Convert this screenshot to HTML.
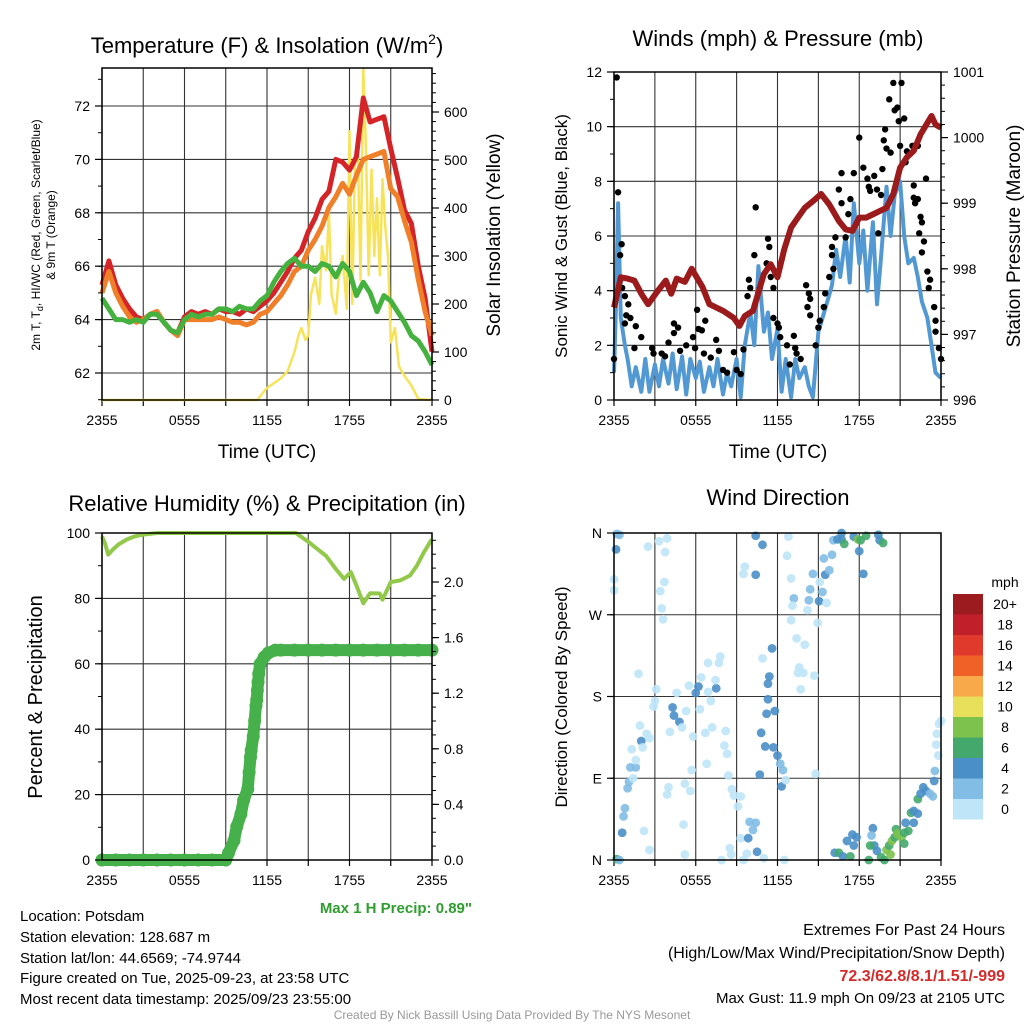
<!DOCTYPE html>
<html><head><meta charset="utf-8">
<style>
html,body{margin:0;padding:0;background:#fff;}
svg{display:block;font-family:"Liberation Sans",sans-serif;}
</style></head>
<body>
<svg id="c" width="1024" height="1024" viewBox="0 0 1024 1024" xmlns="http://www.w3.org/2000/svg">
<rect x="0" y="0" width="1024" height="1024" fill="#fff"/>
<text x="267" y="53" font-size="22" text-anchor="middle">Temperature (F) &amp; Insolation (W/m<tspan font-size="14" dy="-9">2</tspan><tspan dy="9">)</tspan></text>
<text x="778" y="46" font-size="22" text-anchor="middle">Winds (mph) &amp; Pressure (mb)</text>
<text x="267" y="511" font-size="22" text-anchor="middle">Relative Humidity (%) &amp; Precipitation (in)</text>
<text x="778" y="505" font-size="22" text-anchor="middle">Wind Direction</text>
<text transform="translate(40,235) rotate(-90)" font-size="12" text-anchor="middle">2m T, T<tspan font-size="9" dy="3">d</tspan><tspan dy="-3">, HI/WC (Red, Green, Scarlet/Blue)</tspan></text>
<text transform="translate(55,235) rotate(-90)" font-size="12" text-anchor="middle">&amp; 9m T (Orange)</text>
<text transform="translate(500,235) rotate(-90)" font-size="19" text-anchor="middle">Solar Insolation (Yellow)</text>
<text x="267" y="458" font-size="19" text-anchor="middle">Time (UTC)</text>
<text transform="translate(567,236) rotate(-90)" font-size="17" text-anchor="middle">Sonic Wind &amp; Gust (Blue, Black)</text>
<text transform="translate(1020,236) rotate(-90)" font-size="19" text-anchor="middle">Station Pressure (Maroon)</text>
<text x="778" y="458" font-size="19" text-anchor="middle">Time (UTC)</text>
<text transform="translate(42,697) rotate(-90)" font-size="20" text-anchor="middle">Percent &amp; Precipitation</text>
<text transform="translate(567,697) rotate(-90)" font-size="17" text-anchor="middle">Direction (Colored By Speed)</text>
<text x="472" y="913" font-size="15" font-weight="bold" fill="#2e9e2e" text-anchor="end">Max 1 H Precip: 0.89"</text>
<g font-size="15">
<text x="20" y="921">Location: Potsdam</text>
<text x="20" y="942">Station elevation: 128.687 m</text>
<text x="20" y="963">Station lat/lon: 44.6569; -74.9744</text>
<text x="20" y="983">Figure created on Tue, 2025-09-23, at 23:58 UTC</text>
<text x="20" y="1004">Most recent data timestamp: 2025/09/23 23:55:00</text>
</g>
<g font-size="16" text-anchor="end">
<text x="1005" y="935">Extremes For Past 24 Hours</text>
<text x="1005" y="958">(High/Low/Max Wind/Precipitation/Snow Depth)</text>
<text x="1005" y="981" fill="#d42a2a" font-weight="bold">72.3/62.8/8.1/1.51/-999</text>
<text x="1005" y="1003" font-size="15">Max Gust: 11.9 mph On 09/23 at 2105 UTC</text>
</g>
<text x="512" y="1019" font-size="12" fill="#999" text-anchor="middle">Created By Nick Bassill Using Data Provided By The NYS Mesonet</text>
<g id="plots"></g>
</svg>
<script>
const xTickLabels = ["2355","0555","1155","1755","2355"];
const halfHours = [0,0.5,1,1.5,2,2.5,3,3.5,4,4.5,5,5.5,6,6.5,7,7.5,8,8.5,9,9.5,10,10.5,11,11.5,12,12.5,13,13.5,14,14.5,15,15.5,16,16.5,17,17.5,18,18.5,19,19.5,20,20.5,21,21.5,22,22.5,23,23.5,24];
const tempRed = [65.3,66.2,65.3,64.8,64.4,64.1,64.0,64.2,64.3,63.9,63.6,63.5,64.1,64.3,64.2,64.3,64.2,64.4,64.3,64.3,64.2,64.4,64.3,64.5,64.7,65.0,65.4,65.8,66.3,66.6,67.3,67.8,68.5,68.8,70.0,69.9,69.6,70.1,72.3,71.4,71.5,71.6,70.4,69.3,68.1,67.6,66.0,64.8,62.8];
const tempOrange = [65.0,65.8,65.0,64.5,64.1,63.9,64.0,64.2,64.3,63.9,63.6,63.4,64.0,64.0,64.0,64.0,64.0,64.1,64.0,63.9,63.9,63.8,63.9,64.2,64.3,64.6,64.9,65.3,65.8,66.0,66.6,67.0,67.5,68.2,68.6,69.1,68.7,69.4,70.0,70.1,70.2,70.3,68.9,68.6,67.7,66.9,65.5,64.3,63.4];
const tempGreen = [64.8,64.4,64.0,64.0,63.9,64.0,63.9,64.2,64.2,63.9,63.6,63.5,64.0,64.2,64.1,64.2,64.2,64.4,64.4,64.3,64.5,64.4,64.4,64.7,64.9,65.4,65.8,66.1,66.3,66.0,66.0,65.8,66.1,66.0,65.6,66.1,65.8,64.9,65.4,65.0,64.3,64.9,64.7,64.3,63.9,63.4,63.2,62.8,62.3];
const solarHours = [0,11.3,11.7,12,12.5,13,13.5,14,14.3,14.5,14.8,15,15.2,15.5,15.8,16,16.3,16.5,16.7,17,17.2,17.5,17.8,18,18.2,18.4,18.6,18.8,19,19.2,19.4,19.6,19.8,20,20.2,20.4,20.6,20.8,21,21.3,21.6,22,22.5,23,24];
const solarValues = [0,0,15,25,35,45,60,100,135,150,125,135,220,255,200,320,270,390,220,180,250,300,190,560,200,500,520,250,690,520,260,480,300,420,260,460,360,300,120,150,70,50,30,2,0];
const presHours = [0,0.5,1,1.5,2,2.5,3.2,3.8,4.2,4.6,5.2,5.7,6.5,7,8,8.8,9.2,9.6,10.2,11,11.5,12,12.5,13,13.5,14,14.6,15.2,15.8,16.5,17,17.5,18,18.5,19,19.5,20,20.5,21,21.5,22,22.5,23.3,23.6,24];
const presValues = [997.41,997.87,997.85,997.82,997.62,997.46,997.66,997.82,997.62,997.85,997.8,998.0,997.72,997.46,997.36,997.25,997.13,997.28,997.36,997.92,998.07,997.87,998.3,998.63,998.78,998.93,999.03,999.14,998.98,998.73,998.6,998.58,998.78,998.78,998.83,998.88,998.93,999.14,999.54,999.7,999.8,1000.05,1000.33,1000.2,1000.15];
const windHours = [0,0.15,0.3,0.5,0.8,1,1.3,1.6,2,2.3,2.6,3,3.3,3.6,4,4.3,4.6,5,5.3,5.6,6,6.3,6.6,7,7.3,7.6,8,8.3,8.6,9,9.3,9.6,10,10.3,10.6,11,11.3,11.6,12,12.3,12.6,13,13.3,13.6,14,14.3,14.6,15,15.3,15.6,16,16.3,16.6,17,17.3,17.6,18,18.3,18.6,19,19.3,19.6,20,20.3,20.6,21,21.3,21.6,22,22.3,22.6,23,23.3,23.6,24];
const windSpeeds = [1.0,3.5,7.2,3.0,2.0,1.5,0.5,1.2,0.3,1.5,0.3,1.3,0.5,1.5,0.6,1.7,0.4,1.6,0.2,1.5,0.8,1.4,0.3,1.2,0.5,1.5,0.2,1.0,0.5,1.5,0.1,2.0,3.2,2.0,4.9,2.5,3.2,1.5,2.6,0.3,1.5,0.1,1.5,0.8,1.2,0.5,0.1,2.5,3.0,3.5,4.2,5.5,4.5,6.0,4.3,7.2,5.0,6.2,4.0,6.5,3.5,5.2,7.8,6.0,7.5,8.0,6.0,5.0,5.2,4.5,3.6,3.0,2.0,1.0,0.8];
const gustHours = [0,0.2,0.3,0.45,0.56,0.6,0.8,0.8,0.9,1.05,1.2,1.5,1.6,2.0,2.8,2.9,3.5,3.75,4.0,4.4,4.4,4.7,4.85,5.3,5.8,5.95,6.1,6.2,6.45,6.6,6.7,7.1,7.5,7.7,8.0,8.3,8.8,9.0,9.3,9.5,9.8,9.9,10.0,10.3,10.4,10.7,11.2,11.3,11.4,11.5,11.7,11.7,12.0,12.1,12.2,12.7,12.9,13.2,13.3,13.4,13.7,14.1,14.2,14.3,14.4,14.4,14.8,15.0,15.1,15.4,15.5,15.8,16.0,16.0,16.1,16.25,16.5,16.7,16.7,17.0,17.2,17.35,17.5,17.6,18.0,18.3,18.6,18.7,18.8,19.1,19.3,19.4,19.6,19.7,19.8,19.9,20.0,20.2,20.3,20.5,20.6,20.8,20.9,21.0,21.1,21.3,21.4,21.5,21.9,22.0,22.0,22.1,22.3,22.3,22.4,22.5,22.6,22.6,22.75,22.9,23.0,23.1,23.2,23.5,23.6,23.6,23.85,24.0];
const gustSpeeds = [1.5,11.8,7.6,5.3,5.7,4.1,3.8,2.8,3.1,3.5,3.0,1.9,2.7,2.3,1.9,1.7,1.7,1.6,2.1,2.8,2.45,2.65,1.8,2.0,2.3,1.9,3.3,2.6,2.55,1.7,2.9,1.55,2.2,1.8,1.1,1.0,1.75,1.1,0.95,1.85,3.8,4.4,4.1,5.3,7.05,4.1,5.0,5.9,5.6,4.5,4.1,3.0,2.8,2.65,2.3,2.0,1.3,2.35,1.9,1.7,1.5,4.2,3.4,3.9,3.7,3.1,2.0,2.65,2.9,3.4,3.9,4.5,5.3,5.6,4.8,5.95,7.7,8.3,7.2,5.95,6.8,7.35,6.2,8.3,9.6,8.5,8.1,7.8,7.65,8.2,7.7,6.1,7.5,8.45,9.5,9.9,9.2,11.0,9.05,11.6,10.6,10.7,10.2,9.3,11.6,10.3,8.7,9.1,9.3,7.85,7.4,7.2,9.3,7.35,6.1,6.7,6.5,5.4,5.8,8.1,4.7,4.1,4.4,3.4,2.9,2.5,1.9,1.5];
const rhHours = [0,0.2,0.45,0.8,1.2,1.8,2.4,3,4,6,8,10,12,14.1,15.1,15.7,16.3,17,17.6,18.1,18.5,19,19.5,20.2,20.4,21,21.7,22.4,22.9,23.4,23.9,24];
const rhValues = [99,97,93.4,95,96.5,98,99,99.5,100,100,100,100,100,100,97,95,93,89,86,88,84,78.5,81.6,81.5,79.6,85,85.5,87,90,94,97.5,98];
const precipHours = [0,1,2,3,4,5,6,7,8,9,9.2,9.6,9.8,10.1,10.3,10.6,10.7,10.8,10.85,11.0,11.1,11.2,11.25,11.3,11.35,11.4,11.5,11.8,12.1,12.6,13,14,15,16,17,18,19,20,21,22,23,24];
const precipValues = [0,0,0,0,0,0,0,0,0,0,0.05,0.14,0.24,0.33,0.43,0.51,0.63,0.74,0.79,0.89,1.0,1.11,1.15,1.22,1.28,1.34,1.41,1.46,1.49,1.51,1.51,1.51,1.51,1.51,1.51,1.51,1.51,1.51,1.51,1.51,1.51,1.51];
const dirHours = [0.2,0.4,0.15,0,0,0.2,0.4,0.6,0.7,0.8,1.0,1.1,1.4,1.2,1.6,1.6,1.3,2.0,2.1,1.9,2.4,2.6,2.9,3.0,3.1,1.8,2.5,3.3,3.9,3.75,3.7,3.4,3.5,3.6,2.2,2.6,4.0,3.9,4.1,4.3,4.4,4.6,4.8,5.0,5.3,5.5,5.8,6.2,6.4,6.0,6.3,6.9,7.1,7.5,7.45,6.9,7.7,7.8,6.7,7.2,8.2,8.1,8.3,6.8,5.7,5.2,5.6,5.1,5.2,7.9,8.4,8.65,8.8,9.3,9.1,9.3,8.5,8.6,9.5,9.75,9.95,10.2,10.4,9.85,10.5,11.0,10.7,11.1,11.7,10.8,11.2,11.8,11.3,11.3,11.4,11.6,10.9,12.0,12.2,12.4,12.3,12.6,12.5,14.8,9.6,9.5,10.4,10.4,10.9,12.8,12.7,13.0,13.2,13.1,13.0,13.4,14.0,13.6,13.9,13.5,13.7,14.7,14.95,14.2,14.3,14.4,14.6,15.1,15.3,15.05,15.6,15.5,15.8,15.4,16.0,16.1,16.4,16.7,16.7,16.9,17.6,18.0,18.3,17.9,18.1,18.5,19.4,19.5,19.75,16.2,16.5,16.8,17.35,17.1,17.5,17.6,17.8,18.7,19.0,18.9,19.1,18.8,19.3,19.6,19.85,20.0,20.2,20.3,20.4,20.6,20.7,20.8,21.1,21.3,21.3,21.6,21.4,21.8,22.0,22.3,22.0,22.3,22.5,22.7,22.9,23.2,23.4,23.5,23.55,23.8,23.65,23.7,23.85,24.0];
const dirDegrees = [359,358,342,309,297,1,0,30,48,57,79,86,90,102,102,110,122,131,124,148,139,134,169,175,188,205,345,351,354,339,306,296,277,265,32,11,80,72,141,168,159,184,152,146,164,192,136,191,201,184,166,185,175,189,198,217,217,224,140,146,142,126,117,106,99,84,76,39,6,0,93,78,71,70,59,24,13,6,0,7,42,33,41,24,9,2,94,125,124,140,161,164,177,194,202,233,222,115,106,99,81,88,0,95,323,315,314,357,347,356,335,310,288,280,264,244,237,212,206,206,188,203,261,275,286,298,315,306,295,285,283,314,319,332,336,352,353,360,353,348,356,340,315,353,352,357,358,352,349,8,8,4,4,21,28,16,25,0,35,27,16,16,10,3,0,11,16,6,21,25,34,29,25,18,30,32,41,52,41,51,54,67,73,80,76,73,70,87,98,115,127,139,150,153];
const dirSpeeds = [3,3,5,1,1,7,3,5,3,3,3,3,1,3,3,1,1,5,1,1,1,1,1,1,1,1,1,1,1,1,1,1,1,1,1,1,1,1,1,5,5,1,5,1,1,1,1,5,1,5,1,1,1,5,1,1,1,1,1,1,1,1,1,1,1,1,1,1,1,1,1,1,1,1,1,1,1,1,1,1,3,3,3,5,5,1,5,5,5,5,5,5,5,5,5,5,1,5,3,3,5,1,1,1,1,1,5,5,5,1,1,1,3,1,1,1,1,1,1,1,1,1,1,1,3,3,3,1,3,5,1,5,3,3,3,3,5,5,5,7,5,5,5,9,7,7,5,5,7,5,7,5,7,5,5,5,5,7,5,3,5,7,5,7,7,9,7,9,9,7,7,9,9,7,7,7,5,7,5,5,5,7,5,5,5,3,3,5,3,1,1,1,1,1];
const barLabels = ["20+","18","16","14","12","10","8","6","4","2","0"];
const barColors = ["#9b1b1e","#c1202a","#e03a2c","#f06128","#f8a94a","#e8e05a","#7dc24c","#44a86d","#4a8fc8","#82bde6","#bfe6f8"];

const NS = "http://www.w3.org/2000/svg";
const root = document.getElementById("plots");
function mk(tag, attrs, parent) {
  const e = document.createElementNS(NS, tag);
  for (const k in attrs) e.setAttribute(k, attrs[k]);
  (parent || root).appendChild(e);
  return e;
}
function linScale(d0, d1, r0, r1) { return v => r0 + (v - d0) * (r1 - r0) / (d1 - d0); }
function speedColor(s) {
  const idx = Math.min(10, Math.max(0, 10 - Math.floor(s / 2)));
  return barColors[idx];
}
function panelFrame(name, X0, X1, Y0, Y1, xs, gridYs) {
  const g = mk("g", {});
  
  
  for (let h = 0; h <= 24; h += 3) {
    const l = mk("line", {x1: xs(h), x2: xs(h), y1: Y0, y2: Y1, stroke: "#333", "stroke-width": 1.1}, g);
    
    
    const t = mk("line", {x1: xs(h), x2: xs(h), y1: Y1, y2: Y1 + 6, stroke: "#000", "stroke-width": 1.2}, g);
    
    
  }
  gridYs.forEach(y => {
    const l = mk("line", {x1: X0, x2: X1, y1: y, y2: y, stroke: "#333", "stroke-width": 1.1}, g);
    
    
  });
  xTickLabels.forEach((lab, i) => {
    const t = mk("text", {x: xs(i * 6), y: Y1 + 25, "font-size": 14, "text-anchor": "middle"}, g);
    t.textContent = lab;
    
    
  });
  return g;
}
function border(name, X0, X1, Y0, Y1) {
  const r = mk("rect", {x: X0, y: Y0, width: X1 - X0, height: Y1 - Y0, fill: "none", stroke: "#000", "stroke-width": 1.5});
  
  
}
function yAxis(name, x, dir, scale, majors, labels, minorStep, lo, hi) {
  const g = mk("g", {});
  
  
  for (let v = lo; v <= hi + 1e-9; v += minorStep) {
    const y = scale(v);
    mk("line", {x1: x, x2: x + dir * 4, y1: y, y2: y, stroke: "#000", "stroke-width": 1}, g);
  }
  majors.forEach((v, i) => {
    const y = scale(v);
    mk("line", {x1: x, x2: x + dir * 7, y1: y, y2: y, stroke: "#000", "stroke-width": 1.2}, g);
    const t = mk("text", {x: x + dir * 12, y: y + 5, "font-size": 14, "text-anchor": dir < 0 ? "end" : "start"}, g);
    t.textContent = labels[i];
    
    
  });
}
function pathD(xsArr, ysArr, xs, ys) {
  return xsArr.map((h, i) => (i ? "L" : "M") + xs(h).toFixed(1) + "," + ys(ysArr[i]).toFixed(1)).join("");
}

(function () {
  const X0 = 102, X1 = 432, Y0 = 68, Y1 = 400;
  const xs = linScale(0, 24, X0, X1);
  const ty = linScale(62, 72, 373, 106);
  const sy = linScale(0, 600, 400, 112);
  panelFrame("temperature", X0, X1, Y0, Y1, xs, [62, 64, 66, 68, 70, 72].map(ty));
  const sol = mk("path", {d: pathD(solarHours, solarValues, xs, sy), fill: "none", stroke: "#f7e35a", "stroke-width": 2.5, "stroke-linejoin": "round"});
  
  
  const red = mk("path", {d: pathD(halfHours, tempRed, xs, ty), fill: "none", stroke: "#d42427", "stroke-width": 5, "stroke-linejoin": "round"});
  
  
  const or = mk("path", {d: pathD(halfHours, tempOrange, xs, ty), fill: "none", stroke: "#f07f2a", "stroke-width": 5, "stroke-linejoin": "round"});
  
  
  const gr = mk("path", {d: pathD(halfHours, tempGreen, xs, ty), fill: "none", stroke: "#45b23f", "stroke-width": 5, "stroke-linejoin": "round"});
  
  
  border("temperature", X0, X1, Y0, Y1);
  yAxis("temperature-y-axis", X0, -1, ty, [62, 64, 66, 68, 70, 72], ["62", "64", "66", "68", "70", "72"], 1, 61, 73);
  yAxis("solar-y-axis", X1, 1, sy, [0, 100, 200, 300, 400, 500, 600], ["0", "100", "200", "300", "400", "500", "600"], 20, 0, 680);
})();

(function () {
  const X0 = 614, X1 = 941, Y0 = 72, Y1 = 400;
  const xs = linScale(0, 24, X0, X1);
  const wy = linScale(0, 12, 400, 72);
  const py = linScale(996, 1001, 400, 72);
  panelFrame("winds", X0, X1, Y0, Y1, xs, [0, 2, 4, 6, 8, 10, 12].map(wy));
  const w = mk("path", {d: pathD(windHours, windSpeeds, xs, wy), fill: "none", stroke: "#5299d3", "stroke-width": 4, "stroke-linejoin": "round"});
  
  
  gustHours.forEach((h, i) => {
    const c = mk("circle", {cx: xs(h), cy: wy(gustSpeeds[i]), r: 3.2, fill: "#000"});
    
    
  });
  const p = mk("path", {d: pathD(presHours, presValues, xs, py), fill: "none", stroke: "#9b1a1c", "stroke-width": 6, "stroke-linejoin": "round"});
  
  
  border("winds", X0, X1, Y0, Y1);
  yAxis("wind-y-axis", X0, -1, wy, [0, 2, 4, 6, 8, 10, 12], ["0", "2", "4", "6", "8", "10", "12"], 1, 0, 12);
  yAxis("pressure-y-axis", X1, 1, py, [996, 997, 998, 999, 1000, 1001], ["996", "997", "998", "999", "1000", "1001"], 0.2, 996, 1001);
})();

(function () {
  const X0 = 102, X1 = 432, Y0 = 533, Y1 = 860;
  const xs = linScale(0, 24, X0, X1);
  const ry = linScale(0, 100, 860, 533);
  const py = linScale(0, 2.0, 860, 582);
  panelFrame("humidity", X0, X1, Y0, Y1, xs, [0, 20, 40, 60, 80, 100].map(ry));
  const rh = mk("path", {d: pathD(rhHours, rhValues, xs, ry), fill: "none", stroke: "#93c94b", "stroke-width": 4, "stroke-linejoin": "round"});
  
  
  const pl = mk("path", {d: pathD(precipHours, precipValues, xs, py), fill: "none", stroke: "#46b04a", "stroke-width": 12, "stroke-linecap": "round", "stroke-linejoin": "round"});
  
  
  precipHours.forEach((h, i) => {
    const c = mk("circle", {cx: xs(h), cy: py(precipValues[i]), r: 6.5, fill: "#46b04a"});
    
    
  });
  border("humidity", X0, X1, Y0, Y1);
  yAxis("humidity-y-axis", X0, -1, ry, [0, 20, 40, 60, 80, 100], ["0", "20", "40", "60", "80", "100"], 10, 0, 100);
  yAxis("precip-y-axis", X1, 1, py, [0, 0.4, 0.8, 1.2, 1.6, 2.0], ["0.0", "0.4", "0.8", "1.2", "1.6", "2.0"], 0.1, 0, 2.3);
})();

(function () {
  const X0 = 614, X1 = 941, Y0 = 533, Y1 = 860;
  const xs = linScale(0, 24, X0, X1);
  const dy = linScale(0, 360, 860, 533);
  panelFrame("direction", X0, X1, Y0, Y1, xs, [0, 90, 180, 270, 360].map(dy));
  dirHours.forEach((h, i) => {
    const c = mk("circle", {cx: xs(h), cy: dy(dirDegrees[i]), r: 4.4, fill: speedColor(dirSpeeds[i]), opacity: 0.9});
    
    
  });
  border("direction", X0, X1, Y0, Y1);
  yAxis("direction-y-axis", X0, -1, dy, [0, 90, 180, 270, 360], ["N", "E", "S", "W", "N"], 90, 0, 360);
  const cb = mk("g", {});
  
  
  const t = mk("text", {x: 1005, y: 587, "font-size": 14, "text-anchor": "middle"}, cb);
  t.textContent = "mph";
  
  
  barLabels.forEach((lab, i) => {
    const r = mk("rect", {x: 953, y: 594 + i * 20.5, width: 30, height: 20.5, fill: barColors[i]}, cb);
    
    
    const l = mk("text", {x: 1005, y: 594 + i * 20.5 + 15, "font-size": 14, "text-anchor": "middle"}, cb);
    l.textContent = lab;
    
    
  });
})();
</script>
</body></html>
